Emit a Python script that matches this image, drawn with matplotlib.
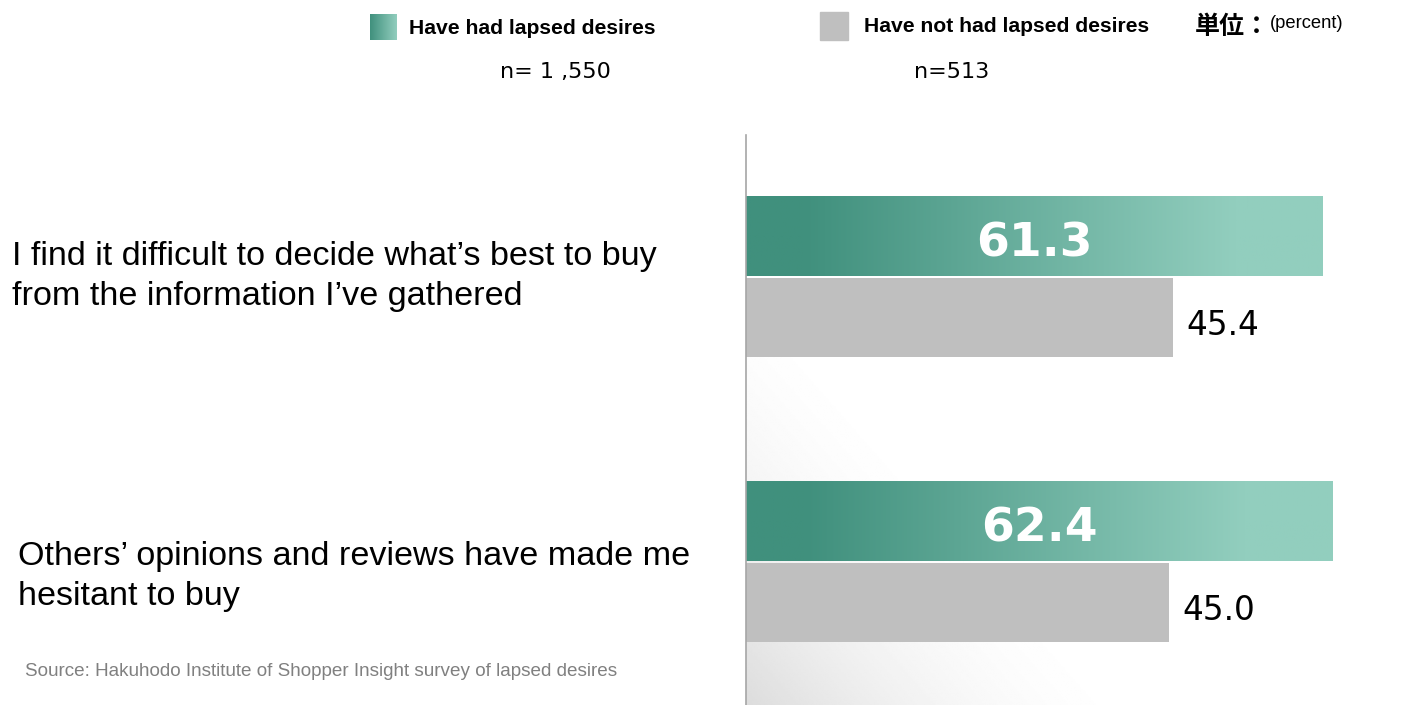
import numpy as np
import matplotlib.pyplot as plt
from matplotlib.colors import LinearSegmentedColormap

questions = [
    "I find it difficult to decide what\u2019s best to buy\nfrom the information I\u2019ve gathered",
    "Others\u2019 opinions and reviews have made me\nhesitant to buy",
]
had_lapsed = [61.3, 62.4]
not_lapsed = [45.4, 45.0]
series_names = ["Have had lapsed desires", "Have not had lapsed desires"]
sample_sizes = ["n= 1 ,550", "n=513"]

green_dark = "#40907d"
green_light = "#92cebe"
grey_bar = "#bfbfbf"

fig = plt.figure(figsize=(14.05, 7.05), dpi=100)
W, H = 1405, 705

ax = fig.add_axes([746 / W, 0, 659 / W, 570 / H])
XMAX = 70.1
YLIM = (1.504, -0.496)
bh = 0.28
ypos = np.arange(len(questions))

# soft grey shading behind the bars, darker towards the bottom-left
u, v = np.meshgrid(np.linspace(0, 1, 400), np.linspace(1, 0, 400))
t = np.clip(0.62 - 0.76 * v - u, 0, None)
shade = 0.33 * t ** 1.85
ax.imshow(1 - shade, cmap="gray", vmin=0, vmax=1, extent=[0, XMAX, YLIM[0], YLIM[1]],
          aspect="auto", zorder=0, interpolation="bilinear")

cmap = LinearSegmentedColormap.from_list(
    "grn", [(0, green_dark), (0.1, green_dark), (0.85, green_light), (1, green_light)], N=256)
grad = np.linspace(0, 1, 256).reshape(1, -1)

bars = ax.barh(ypos - bh / 2, had_lapsed, height=bh, color="none", zorder=2)
for b, val in zip(bars, had_lapsed):
    x0, y0 = b.get_x(), b.get_y()
    ax.imshow(grad, cmap=cmap, extent=[x0, x0 + b.get_width(), y0 + b.get_height(), y0],
              aspect="auto", zorder=2)
    ax.text(x0 + b.get_width() / 2, y0 + b.get_height() / 2 + 0.025, f"{val:.1f}", color="white",
            fontsize=34, fontweight="bold", ha="center", va="center", zorder=3)

gbars = ax.barh(ypos + bh / 2 + 0.004, not_lapsed, height=bh, color=grey_bar, zorder=2)
for b, val in zip(gbars, not_lapsed):
    ax.text(b.get_width() + 1.4, b.get_y() + b.get_height() / 2 + 0.028, f"{val:.1f}",
            color="black", fontsize=23.5, ha="left", va="center", zorder=3)

ax.set_xlim(0, XMAX)
ax.set_ylim(*YLIM)
ax.set_xticks([])
ax.set_yticks([])
for s in ["top", "right", "bottom"]:
    ax.spines[s].set_visible(False)
ax.spines["left"].set_color("#a6a6a6")
ax.spines["left"].set_linewidth(1.2)

# category labels on the left
label_x = [12, 18]
label_dy = [0, 15]
for lx, dy, q, y in zip(label_x, label_dy, questions, ypos):
    yc = ax.transData.transform((0, y))[1] - dy
    fig.text(lx / W, yc / H, q, fontsize=24.6, family="Liberation Sans",
             ha="left", va="center", linespacing=1.36)

# legend across the top
leg_ax = fig.add_axes([370 / W, 1 - 40 / H, 27 / W, 26 / H])
leg_ax.imshow(grad, cmap=LinearSegmentedColormap.from_list("l", [green_dark, green_light]),
              aspect="auto")
leg_ax.axis("off")
fig.patches.append(plt.Rectangle((820 / W, 1 - 40 / H), 28 / W, 28 / H, transform=fig.transFigure,
                                 color=grey_bar, figure=fig))
fig.text(409 / W, 1 - 28 / H, series_names[0], fontsize=15.2, fontweight="bold",
         family="Liberation Sans", ha="left", va="center")
fig.text(864 / W, 1 - 27 / H, series_names[1], fontsize=15.2, fontweight="bold",
         family="Liberation Sans", ha="left", va="center")
fig.text(1195 / W, 1 - 27 / H, "単位：", fontsize=18, fontweight="bold",
         family=["Noto Sans CJK JP", "DejaVu Sans"], ha="left", va="center")
fig.text(1270 / W, 1 - 23 / H, "(percent)", fontsize=13.2,
         family="Liberation Sans", ha="left", va="center")

fig.text(555 / W, 1 - 72 / H, sample_sizes[0], fontsize=16, ha="center", va="center")
fig.text(952 / W, 1 - 72 / H, sample_sizes[1], fontsize=16, ha="center", va="center")

fig.text(25 / W, 1 - 671 / H, "Source: Hakuhodo Institute of Shopper Insight survey of lapsed desires",
         fontsize=13.6, color="#808080", family="Liberation Sans", ha="left", va="center")

fig.savefig("out.png", dpi=100)
